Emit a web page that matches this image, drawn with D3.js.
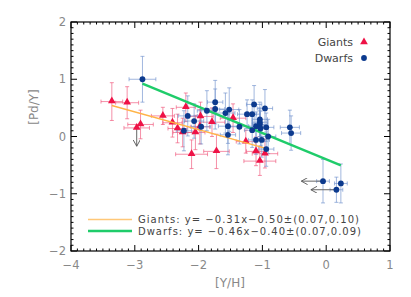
<!DOCTYPE html>
<html>
<head>
<meta charset="utf-8">
<script src="https://cdn.jsdelivr.net/npm/d3@7"></script>
<style>
    body { margin: 0; background: #fff; }
    text { font-family: "DejaVu Sans", sans-serif; }
</style>
</head>
<body>
<svg id="chart" width="411" height="297"></svg>
<script>
// Giants: [Y/H], [Pd/Y], x error, y error
const giantsX  = [-3.36, -3.12, -2.91, -2.97, -2.56, -2.41, -2.33, -2.25, -2.20, -2.11,
                  -2.05, -1.98, -1.97, -1.79, -1.72, -1.46, -1.26, -1.10, -1.04, -0.96];
const giantsY  = [0.61, 0.59, 0.21, 0.15, 0.36, 0.24, 0.14, 0.07, 0.51, -0.31,
                  0.07, 0.17, 0.35, 0.25, -0.26, 0.32, -0.09, -0.26, -0.43, -0.30];
const giantsXe = [0.17, 0.18, 0.20, 0.20, 0.18, 0.15, 0.15, 0.15, 0.15, 0.25,
                  0.15, 0.15, 0.20, 0.20, 0.20, 0.20, 0.15, 0.15, 0.25, 0.20];
const giantsYe = [0.33, 0.28, 0.25, 0.00, 0.15, 0.25, 0.25, 0.25, 0.25, 0.25,
                  0.30, 0.30, 0.25, 0.25, 0.30, 0.25, 0.20, 0.25, 0.25, 0.25];
// upper limit in [Pd/Y] (arrow down)
const giantsLimit = [0, 0, 0, 1, 0, 0, 0, 0, 0, 0, 0, 0, 0, 0, 0, 0, 0, 0, 0, 0];

// Dwarfs
const dwarfsX  = [-2.88, -2.17, -2.23, -2.07, -1.96, -1.87, -1.74, -1.74, -1.58, -1.52,
                  -1.54, -1.54, -1.36, -1.24, -1.16, -1.13, -1.16, -1.10, -1.10, -1.04,
                  -1.04, -1.04, -1.03, -1.01, -0.96, -0.94, -0.94, -0.91, -0.57, -0.55,
                  -0.05, 0.16, 0.23];
const dwarfsY  = [1.00, 0.36, 0.10, 0.27, 0.17, 0.45, 0.60, 0.48, 0.41, 0.47,
                  0.18, 0.03, 0.17, 0.39, 0.39, 0.56, 0.11, 0.18, -0.06, 0.30,
                  0.25, 0.21, 0.14, -0.06, 0.49, 0.16, -0.22, 0.00, 0.16, 0.06,
                  -0.78, -0.93, -0.82];
const dwarfsXe = [0.21, 0.15, 0.12, 0.15, 0.15, 0.15, 0.12, 0.15, 0.15, 0.15,
                  0.15, 0.12, 0.15, 0.15, 0.12, 0.12, 0.12, 0.12, 0.12, 0.12,
                  0.12, 0.12, 0.12, 0.12, 0.12, 0.12, 0.12, 0.12, 0.15, 0.15,
                  0.10, 0.10, 0.10];
const dwarfsYe = [0.40, 0.35, 0.35, 0.30, 0.30, 0.35, 0.38, 0.35, 0.35, 0.38,
                  0.30, 0.35, 0.30, 0.25, 0.25, 0.33, 0.30, 0.25, 0.25, 0.30,
                  0.25, 0.25, 0.30, 0.30, 0.33, 0.25, 0.30, 0.30, 0.30, 0.30,
                  0.38, 0.22, 0.34];
// upper limit in [Y/H] (arrow left)
const dwarfsLimit = [0, 0, 0, 0, 0, 0, 0, 0, 0, 0, 0, 0, 0, 0, 0, 0, 0, 0, 0, 0,
                     0, 0, 0, 0, 0, 0, 0, 0, 0, 0, 1, 1, 0];

// linear fits
const fitGiants = { slope: -0.31, icpt: -0.50, label: 'Giants: y=  \u22120.31x\u22120.50\u00b1(0.07,0.10)' };
const fitDwarfs = { slope: -0.46, icpt: -0.40, label: 'Dwarfs: y=  \u22120.46x\u22120.40\u00b1(0.07,0.09)' };

const xTicks = [-4, -3, -2, -1, 0, 1];
const yTicks = [-2, -1, 0, 1, 2];

const svg = d3.select('#chart');
const m = { left: 71, right: 390, top: 22, bottom: 251 };

const x = d3.scaleLinear().domain([-4, 1]).range([m.left, m.right]);
const y = d3.scaleLinear().domain([-2, 2]).range([m.bottom, m.top]);

const red = '#ee1246', blue = '#0c3a8e';
const redErr = '#f0557a', blueErr = '#6f90cc';
const fmt = d => d < 0 ? '\u2212' + Math.abs(d) : String(d);

const giants = giantsX.map((d, i) => ({ x: d, y: giantsY[i], xe: giantsXe[i], ye: giantsYe[i], lim: giantsLimit[i] }));
const dwarfs = dwarfsX.map((d, i) => ({ x: d, y: dwarfsY[i], xe: dwarfsXe[i], ye: dwarfsYe[i], lim: dwarfsLimit[i] }));

// Arrow marker for limits
const defs = svg.append('defs');
defs.append('marker')
    .attr('id', 'arrow')
    .attr('viewBox', '0 0 10 10')
    .attr('refX', 9).attr('refY', 5)
    .attr('markerWidth', 7).attr('markerHeight', 7)
    .attr('markerUnits', 'userSpaceOnUse')
    .attr('orient', 'auto')
    .append('path')
        .attr('d', 'M0,0 L9,5 L0,10')
        .attr('fill', 'none')
        .attr('stroke', '#555')
        .attr('stroke-width', 1.3);

// Error bars
function drawErrors(data, colour) {
    const g = svg.append('g')
        .attr('stroke', colour)
        .attr('stroke-opacity', 0.65)
        .attr('stroke-width', 1);
    const cap = 2;
    data.forEach(d => {
        const cx = x(d.x), cy = y(d.y);
        if (d.ye > 0) {
            g.append('line').attr('x1', cx).attr('x2', cx).attr('y1', y(d.y - d.ye)).attr('y2', y(d.y + d.ye));
            g.append('line').attr('x1', cx - cap).attr('x2', cx + cap).attr('y1', y(d.y - d.ye)).attr('y2', y(d.y - d.ye));
            g.append('line').attr('x1', cx - cap).attr('x2', cx + cap).attr('y1', y(d.y + d.ye)).attr('y2', y(d.y + d.ye));
        }
        g.append('line').attr('x1', x(d.x - d.xe)).attr('x2', x(d.x + d.xe)).attr('y1', cy).attr('y2', cy);
        g.append('line').attr('x1', x(d.x - d.xe)).attr('x2', x(d.x - d.xe)).attr('y1', cy - cap).attr('y2', cy + cap);
        g.append('line').attr('x1', x(d.x + d.xe)).attr('x2', x(d.x + d.xe)).attr('y1', cy - cap).attr('y2', cy + cap);
    });
}
drawErrors(giants, redErr);
drawErrors(dwarfs, blueErr);

// Limit arrows
const limG = svg.append('g').attr('stroke', '#666').attr('stroke-width', 1);
giants.filter(d => d.lim).forEach(d => {
    limG.append('line')
        .attr('x1', x(d.x)).attr('y1', y(d.y))
        .attr('x2', x(d.x)).attr('y2', y(d.y - 0.32))
        .attr('marker-end', 'url(#arrow)');
});
dwarfs.filter(d => d.lim).forEach((d, i) => {
    limG.append('line')
        .attr('x1', x(d.x)).attr('y1', y(d.y))
        .attr('x2', x(d.x - (i === 0 ? 0.34 : 0.4))).attr('y2', y(d.y))
        .attr('marker-end', 'url(#arrow)');
});

// Fit lines across the range of each sample
function drawFit(data, fit, colour, width) {
    const ext = d3.extent(data, d => d.x);
    svg.append('line')
        .attr('x1', x(ext[0])).attr('y1', y(fit.slope * ext[0] + fit.icpt))
        .attr('x2', x(ext[1])).attr('y2', y(fit.slope * ext[1] + fit.icpt))
        .attr('stroke', colour)
        .attr('stroke-width', width);
}

// Markers
const tri = d3.symbol().type(d3.symbolTriangle).size(26);
svg.append('g').selectAll('path').data(giants).join('path')
    .attr('d', tri)
    .attr('transform', d => `translate(${x(d.x)},${y(d.y) - 0.5})`)
    .attr('fill', red);

drawFit(giants, fitGiants, '#ffb347', 1.4);
drawFit(dwarfs, fitDwarfs, '#1fcc6a', 2.4);

svg.append('g').selectAll('circle').data(dwarfs).join('circle')
    .attr('cx', d => x(d.x))
    .attr('cy', d => y(d.y))
    .attr('r', 2.9)
    .attr('fill', blue);

// Frame with inward ticks on all sides
const axisG = svg.append('g').attr('stroke', '#000');
axisG.append('rect')
    .attr('x', m.left).attr('y', m.top)
    .attr('width', m.right - m.left).attr('height', m.bottom - m.top)
    .attr('fill', 'none').attr('stroke-width', 1.2);

const xMinor = d3.range(-40, 11).map(v => v / 10);
const yMinor = d3.range(-20, 21).map(v => v / 10);
xMinor.forEach(v => {
    const major = Math.abs(v - Math.round(v)) < 1e-6;
    const len = major ? 6 : 2.5;
    axisG.append('line').attr('x1', x(v)).attr('x2', x(v)).attr('y1', m.bottom).attr('y2', m.bottom - len).attr('stroke-width', 1);
    axisG.append('line').attr('x1', x(v)).attr('x2', x(v)).attr('y1', m.top).attr('y2', m.top + len).attr('stroke-width', 1);
});
yMinor.forEach(v => {
    const major = Math.abs(v - Math.round(v)) < 1e-6;
    const len = major ? 6 : 2.5;
    axisG.append('line').attr('y1', y(v)).attr('y2', y(v)).attr('x1', m.left).attr('x2', m.left + len).attr('stroke-width', 1);
    axisG.append('line').attr('y1', y(v)).attr('y2', y(v)).attr('x1', m.right).attr('x2', m.right - len).attr('stroke-width', 1);
});

// Tick labels
svg.append('g').selectAll('text').data(xTicks).join('text')
    .attr('x', d => x(d)).attr('y', 269)
    .attr('text-anchor', 'middle')
    .attr('font-size', 11.5)
    .attr('fill', '#888')
    .text(fmt);
svg.append('g').selectAll('text').data(yTicks).join('text')
    .attr('x', 66).attr('y', d => y(d) + 4)
    .attr('text-anchor', 'end')
    .attr('font-size', 11.5)
    .attr('fill', '#888')
    .text(fmt);

// Axis titles
svg.append('text')
    .attr('x', 230).attr('y', 287)
    .attr('text-anchor', 'middle')
    .attr('font-size', 12)
    .attr('fill', '#888')
    .text('[Y/H]');
svg.append('text')
    .attr('transform', 'translate(38,107)rotate(-90)')
    .attr('text-anchor', 'middle')
    .attr('font-size', 12)
    .attr('fill', '#888')
    .text('[Pd/Y]');

// Top-right legend
const lg = svg.append('g');
lg.append('text').attr('x', 353).attr('y', 46).attr('text-anchor', 'end')
    .attr('font-size', 11).attr('fill', '#444').text('Giants');
lg.append('path').attr('d', tri).attr('transform', 'translate(364,42)').attr('fill', red);
lg.append('text').attr('x', 353).attr('y', 62).attr('text-anchor', 'end')
    .attr('font-size', 11).attr('fill', '#444').text('Dwarfs');
lg.append('circle').attr('cx', 364).attr('cy', 58).attr('r', 2.9).attr('fill', blue);

// Fit legend
const fl = svg.append('g');
[[fitGiants, '#ffc878', 1.4, 219.5, 221], [fitDwarfs, '#1fcc6a', 2.4, 231, 223]].forEach(([f, c, w, yy, len]) => {
    fl.append('line').attr('x1', 88).attr('x2', 132).attr('y1', yy).attr('y2', yy)
        .attr('stroke', c).attr('stroke-width', w);
    fl.append('text').attr('x', 138).attr('y', yy + 3.8)
        .attr('font-size', 10)
        .attr('textLength', len)
        .attr('lengthAdjust', 'spacing')
        .attr('fill', '#444')
        .text(f.label);
});
</script>
</body>
</html>
